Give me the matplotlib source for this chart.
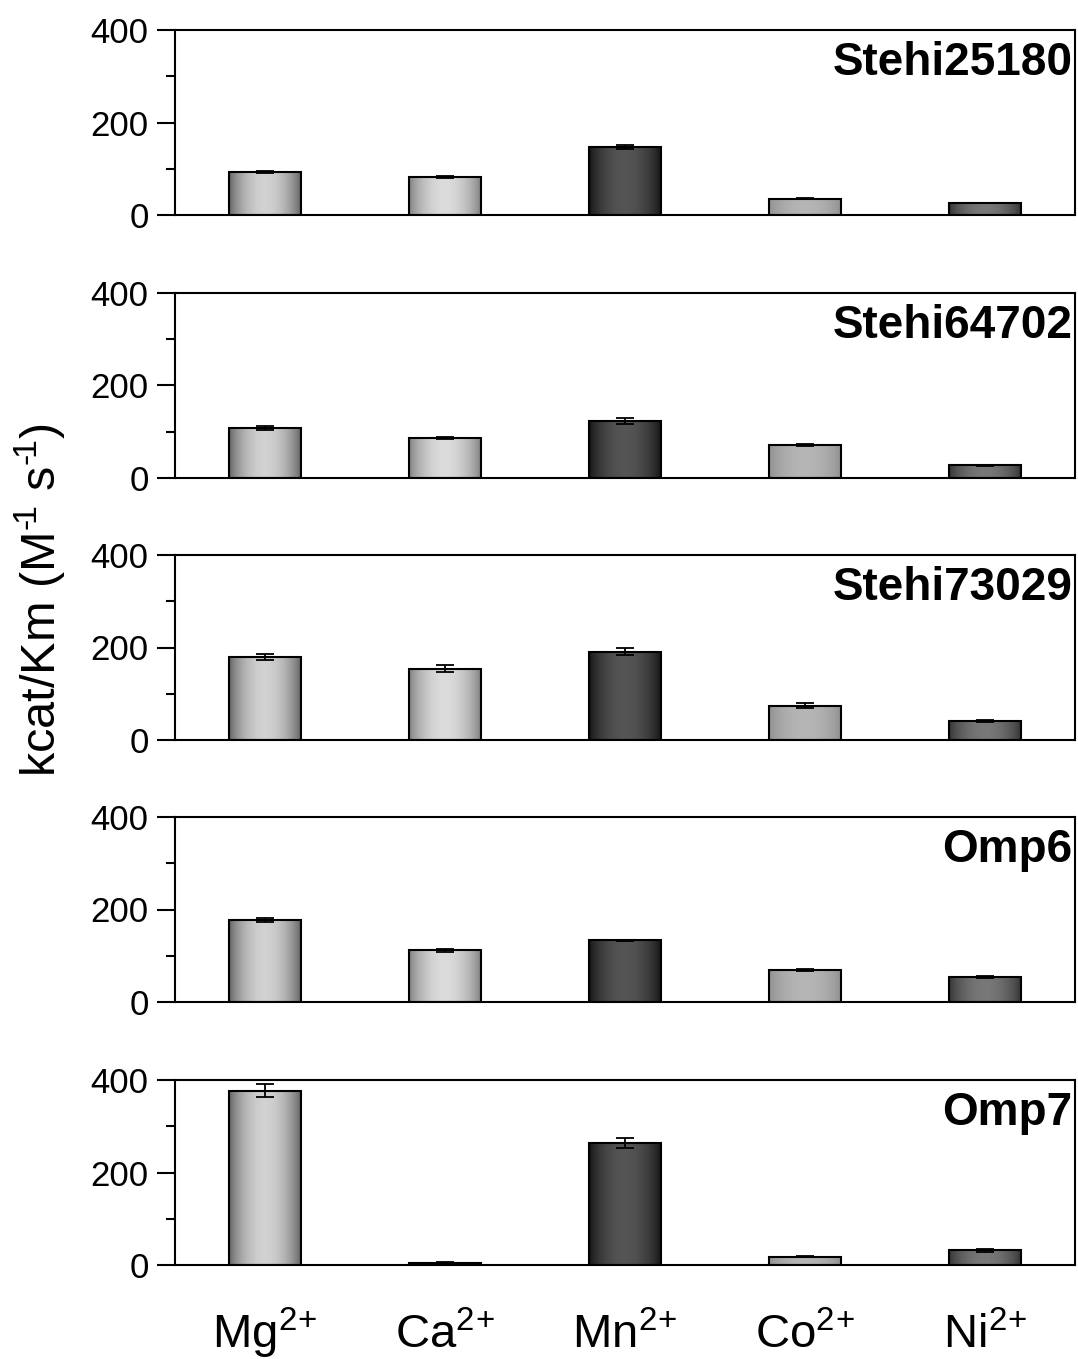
import numpy as np
import matplotlib
matplotlib.use("Agg")
import matplotlib.pyplot as plt
from matplotlib.colors import LinearSegmentedColormap

plt.rcParams['font.family'] = ['Liberation Sans', 'DejaVu Sans']
plt.rcParams['mathtext.fontset'] = 'custom'
plt.rcParams['mathtext.rm'] = 'Liberation Sans'
plt.rcParams['mathtext.it'] = 'Liberation Sans'

# data
ions = ["Mg$^{2\\!+}$", "Ca$^{2\\!+}$", "Mn$^{2\\!+}$", "Co$^{2\\!+}$", "Ni$^{2\\!+}$"]
enzymes = ["Stehi25180", "Stehi64702", "Stehi73029", "Omp6", "Omp7"]
vals = [
    [93, 82, 147, 35, 26],
    [108, 87, 123, 71, 28],
    [179, 154, 191, 74, 41],
    [177, 112, 133, 69, 54],
    [377, 5, 264, 18, 32],
]
errs = [
    [3, 2, 5, 1, 1],
    [4, 2, 7, 2, 1],
    [6, 8, 8, 5, 3],
    [5, 3, 2, 3, 2],
    [14, 1, 10, 1, 3],
]
# (edge grey, centre grey) for each ion bar
shades = [(0.36, 0.82), (0.48, 0.86), (0.07, 0.33), (0.56, 0.71), (0.19, 0.47)]

W, H = 1078, 1359
fig = plt.figure(figsize=(W / 100, H / 100), dpi=100)

tops = [30, 293, 555, 817, 1080]
ph = 185
x = np.arange(len(ions))
bw = 0.4
prof = np.sin(np.linspace(0, np.pi, 200)) ** 0.7

for i, name in enumerate(enzymes):
    ax = fig.add_axes([175 / W, 1 - (tops[i] + ph) / H, 900 / W, ph / H])
    bars = ax.bar(x, vals[i], width=bw, color='none', edgecolor='black', linewidth=1.5, zorder=3)
    for j, b in enumerate(bars):
        lo, hi = shades[j]
        cm = LinearSegmentedColormap.from_list('g', [(lo, lo, lo), (hi, hi, hi)])
        im = ax.imshow(prof[None, :], cmap=cm, vmin=0, vmax=1, aspect='auto',
                       extent=[x[j] - bw / 2, x[j] + bw / 2, 0, vals[i][j]], zorder=2)
        im.set_clip_path(b)
    ax.errorbar(x, vals[i], yerr=errs[i], fmt='none', ecolor='black', elinewidth=1.3,
                capsize=6.5, capthick=1.3, zorder=4)
    ax.set_xlim(-0.5, 4.5)
    ax.set_ylim(0, 400)
    ax.set_yticks([0, 200, 400])
    ax.set_yticks([100, 300], minor=True)
    ax.tick_params(axis='y', which='major', direction='out', length=13, width=1.5, labelsize=25, pad=6)
    ax.tick_params(axis='y', which='minor', direction='out', length=6.5, width=1.5)
    for s in ax.spines.values():
        s.set_linewidth(1.5)
    ax.text(0.997, 0.94, name, transform=ax.transAxes, ha='right', va='top',
            fontsize=33, fontweight='bold')
    ax.set_xticks(x)
    if i == len(enzymes) - 1:
        ax.set_xticklabels(ions, fontsize=34, va='baseline')
        ax.tick_params(axis='x', length=0, pad=60)
    else:
        ax.set_xticklabels([])
        ax.tick_params(axis='x', length=0)

fig.text(40 / W, 1 - 600 / H, "kcat/Km (M$^{\u2010\\!1}$ s$^{\u2010\\!1}$)", rotation=90,
         ha='center', va='center', fontsize=35)

fig.savefig("out.png", dpi=100)
